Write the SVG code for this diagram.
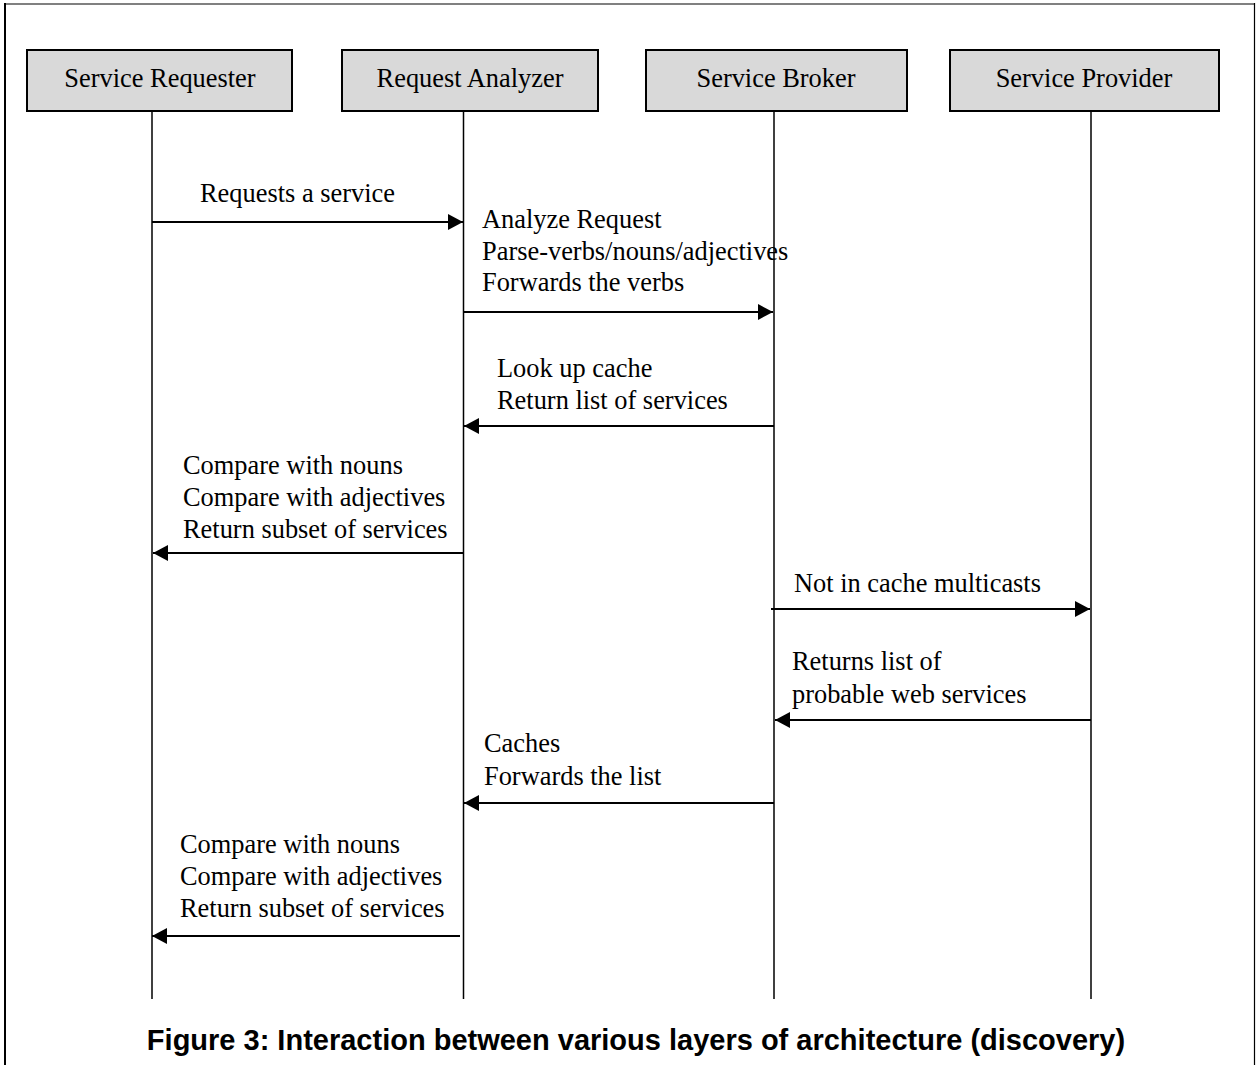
<svg xmlns="http://www.w3.org/2000/svg" width="1256" height="1065" viewBox="0 0 1256 1065">
<style>
.box{fill:#d9d9d9;stroke:#000;stroke-width:2}
.life{stroke:#000;stroke-width:1.5;fill:none}
.msg{stroke:#000;stroke-width:2;fill:none}
.t{font-family:"Liberation Serif","Times New Roman",serif;font-size:26.4px;fill:#000}
.hd{text-anchor:middle}
.cap{font-family:"Liberation Sans",Arial,sans-serif;font-size:29px;font-weight:bold;fill:#000;text-anchor:middle}
</style>
<defs>
<marker id="ah" markerWidth="16" markerHeight="16" refX="15" refY="8" orient="auto" markerUnits="userSpaceOnUse">
<path d="M0,0 L15,8 L0,16 Z" fill="#000"/>
</marker>
</defs>
<rect width="1256" height="1065" fill="#fff"/>
<g id="frame">
<line x1="4" y1="4" x2="1255" y2="4" stroke="#808080" stroke-width="2"/>
<line x1="5" y1="3" x2="5" y2="1065" stroke="#000" stroke-width="2"/>
<line x1="1254.5" y1="3" x2="1254.5" y2="1065" stroke="#000" stroke-width="1.2"/>
</g>
<g id="lifelines">
<line class="life" x1="152" y1="111" x2="152" y2="999"/>
<line class="life" x1="463.5" y1="111" x2="463.5" y2="999"/>
<line class="life" x1="774" y1="111" x2="774" y2="999"/>
<line class="life" x1="1091" y1="111" x2="1091" y2="999"/>
</g>
<g id="requester"><rect class="box" x="27" y="50" width="265" height="61"/><text class="t hd" x="160" y="87">Service Requester</text></g>
<g id="analyzer"><rect class="box" x="342" y="50" width="256" height="61"/><text class="t hd" x="470" y="87">Request Analyzer</text></g>
<g id="broker"><rect class="box" x="646" y="50" width="261" height="61"/><text class="t hd" x="776" y="87">Service Broker</text></g>
<g id="provider"><rect class="box" x="950" y="50" width="269" height="61"/><text class="t hd" x="1084" y="87">Service Provider</text></g>
<g id="connectors">
<line class="msg" x1="152" y1="222" x2="463" y2="222" marker-end="url(#ah)"/>
<line class="msg" x1="463" y1="312" x2="773" y2="312" marker-end="url(#ah)"/>
<line class="msg" x1="774" y1="426" x2="464" y2="426" marker-end="url(#ah)"/>
<line class="msg" x1="463" y1="553" x2="153" y2="553" marker-end="url(#ah)"/>
<line class="msg" x1="771" y1="609" x2="1090" y2="609" marker-end="url(#ah)"/>
<line class="msg" x1="1091" y1="720" x2="775" y2="720" marker-end="url(#ah)"/>
<line class="msg" x1="774" y1="803" x2="464" y2="803" marker-end="url(#ah)"/>
<line class="msg" x1="460" y1="936" x2="152" y2="936" marker-end="url(#ah)"/>
</g>
<g id="labels">
<text class="t" x="200" y="202">Requests a service</text>
<text class="t" x="482" y="228">Analyze Request</text>
<text class="t" x="482" y="260">Parse-verbs/nouns/adjectives</text>
<text class="t" x="482" y="291">Forwards the verbs</text>
<text class="t" x="497" y="377">Look up cache</text>
<text class="t" x="497" y="409">Return list of services</text>
<text class="t" x="183" y="474">Compare with nouns</text>
<text class="t" x="183" y="506">Compare with adjectives</text>
<text class="t" x="183" y="538">Return subset of services</text>
<text class="t" x="794" y="592">Not in cache multicasts</text>
<text class="t" x="792" y="670">Returns list of</text>
<text class="t" x="792" y="703">probable web services</text>
<text class="t" x="484" y="752">Caches</text>
<text class="t" x="484" y="785">Forwards the list</text>
<text class="t" x="180" y="853">Compare with nouns</text>
<text class="t" x="180" y="885">Compare with adjectives</text>
<text class="t" x="180" y="917">Return subset of services</text>
</g>
<text id="caption" class="cap" x="636" y="1050">Figure 3: Interaction between various layers of architecture (discovery)</text>
</svg>
